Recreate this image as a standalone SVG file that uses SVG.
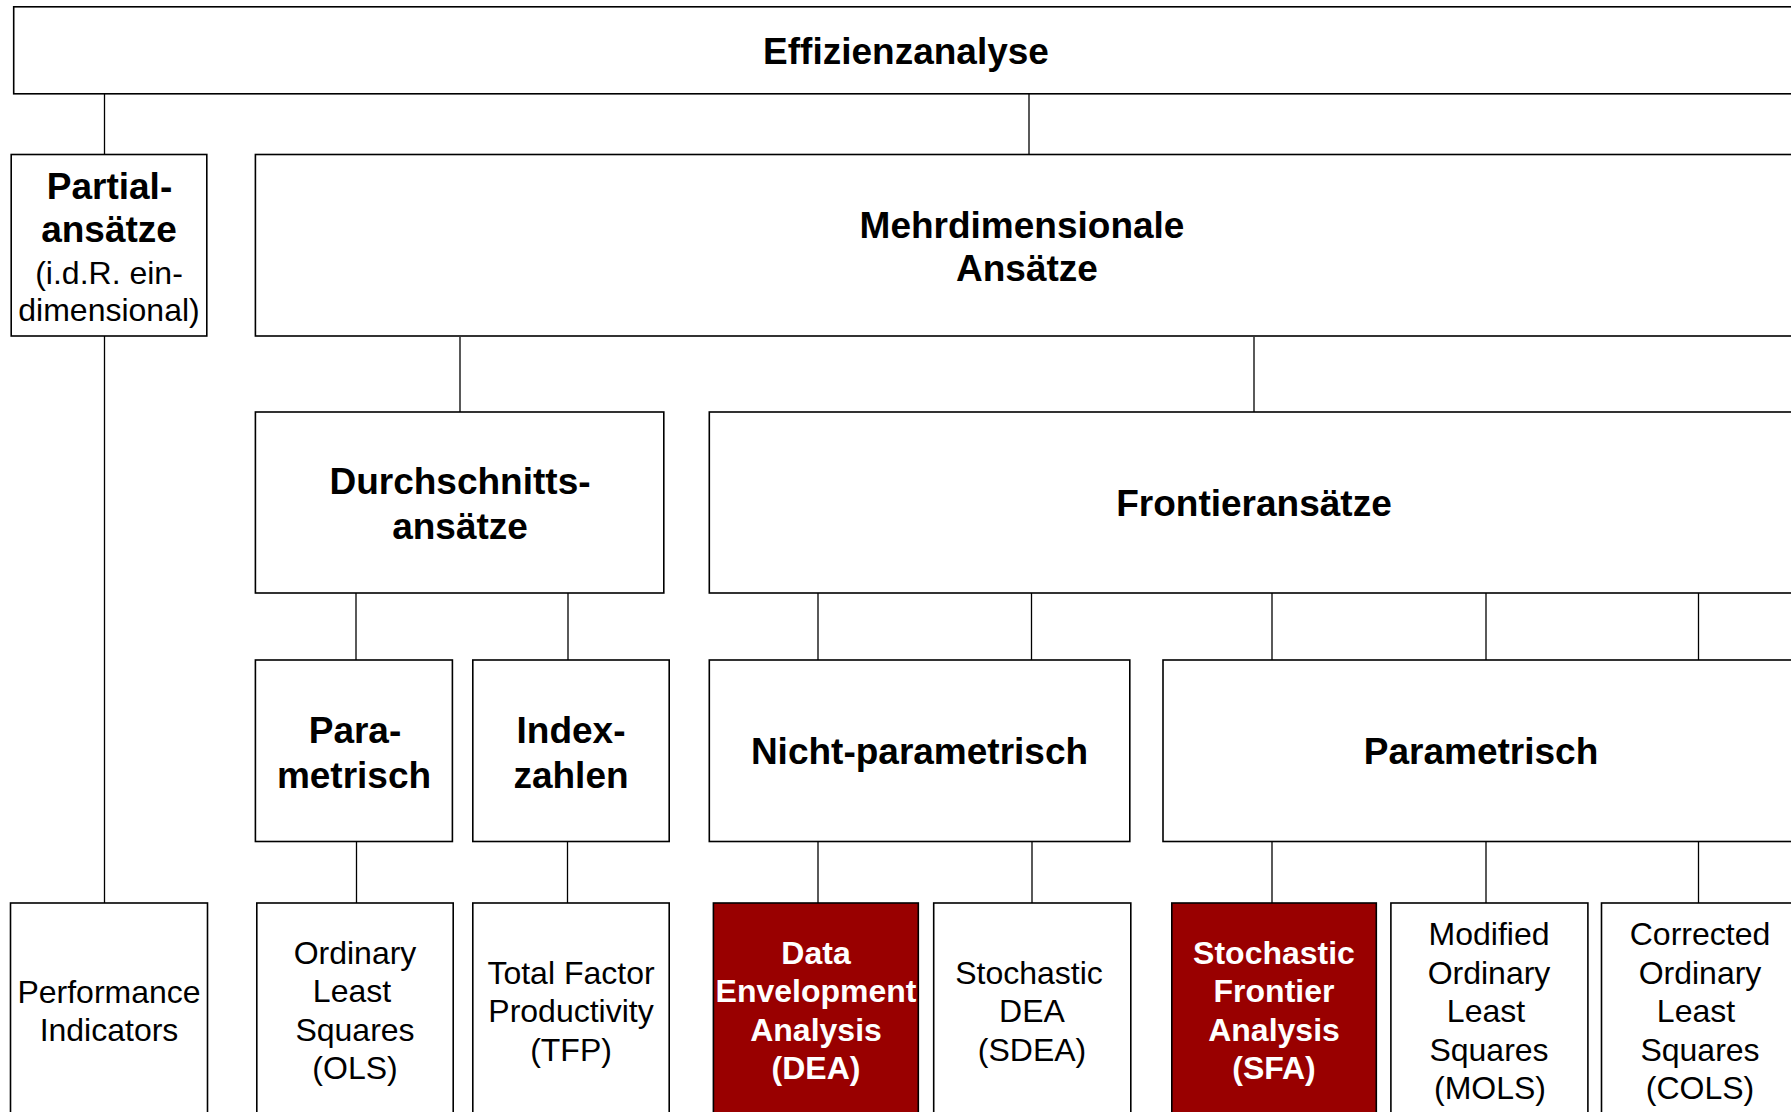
<svg xmlns="http://www.w3.org/2000/svg" width="1791" height="1112" viewBox="0 0 1791 1112">
<style>
.box{fill:#fff;stroke:#000;stroke-width:1.6}
.red{fill:#990000;stroke:#000;stroke-width:1.6}
.con line{stroke:#000;stroke-width:1.3}
text{font-family:"Liberation Sans",Arial,sans-serif;text-anchor:middle;fill:#000}
.h{font-weight:bold;font-size:37px}
.n{font-size:32px}
.w{font-weight:bold;font-size:32px;fill:#fff}
</style>
<rect width="1791" height="1112" fill="#fff"/>
<g id="connectors" class="con">
<line x1="104.5" y1="94" x2="104.5" y2="155"/>
<line x1="1029" y1="94" x2="1029" y2="155"/>
<line x1="104.5" y1="336" x2="104.5" y2="903"/>
<line x1="460" y1="337" x2="460" y2="412"/>
<line x1="1254" y1="337" x2="1254" y2="412"/>
<line x1="356" y1="593" x2="356" y2="660"/>
<line x1="568" y1="593" x2="568" y2="660"/>
<line x1="818" y1="593" x2="818" y2="660"/>
<line x1="1031.5" y1="593" x2="1031.5" y2="660"/>
<line x1="1272" y1="593" x2="1272" y2="660"/>
<line x1="1486" y1="593" x2="1486" y2="660"/>
<line x1="1698.5" y1="593" x2="1698.5" y2="660"/>
<line x1="356.5" y1="842" x2="356.5" y2="903"/>
<line x1="567.5" y1="842" x2="567.5" y2="903"/>
<line x1="818" y1="842" x2="818" y2="903"/>
<line x1="1032" y1="842" x2="1032" y2="903"/>
<line x1="1272" y1="842" x2="1272" y2="903"/>
<line x1="1486" y1="842" x2="1486" y2="903"/>
<line x1="1698.5" y1="842" x2="1698.5" y2="903"/>
</g>
<g id="effizienzanalyse"><rect class="box" x="13.7" y="6.8" width="1785" height="87"/><text class="h" x="906" y="64">Effizienzanalyse</text></g>
<g id="partial"><rect class="box" x="11.2" y="154.5" width="195.6" height="181.5"/>
<text class="h" x="109.5" y="198.5">Partial-</text><text class="h" x="109" y="242">ansätze</text>
<text class="n" x="109" y="284">(i.d.R. ein-</text><text class="n" x="109" y="321">dimensional)</text></g>
<g id="mehrdim"><rect class="box" x="255.4" y="154.5" width="1543" height="181.5"/>
<text class="h" x="1022" y="238">Mehrdimensionale</text><text class="h" x="1027" y="281">Ansätze</text></g>
<g id="durchschnitt"><rect class="box" x="255.4" y="412" width="408.4" height="181"/>
<text class="h" x="460" y="494">Durchschnitts-</text><text class="h" x="460" y="539">ansätze</text></g>
<g id="frontier"><rect class="box" x="709.3" y="412" width="1089" height="181"/>
<text class="h" x="1254" y="516">Frontieransätze</text></g>
<g id="para"><rect class="box" x="255.4" y="660" width="197" height="181.5"/>
<text class="h" x="355" y="743">Para-</text><text class="h" x="354" y="788">metrisch</text></g>
<g id="index"><rect class="box" x="472.8" y="660" width="196.4" height="181.5"/>
<text class="h" x="571" y="743">Index-</text><text class="h" x="571" y="788">zahlen</text></g>
<g id="nichtparam"><rect class="box" x="709.3" y="660" width="420.5" height="181.5"/>
<text class="h" x="919.5" y="764">Nicht-parametrisch</text></g>
<g id="param"><rect class="box" x="1163" y="660" width="635.5" height="181.5"/>
<text class="h" x="1481" y="764">Parametrisch</text></g>
<g id="performance"><rect class="box" x="10.5" y="903" width="197" height="220"/>
<text class="n" x="109" y="1002.5">Performance</text><text class="n" x="109" y="1041">Indicators</text></g>
<g id="ols"><rect class="box" x="256.8" y="903" width="196.4" height="220"/>
<text class="n" x="355" y="963.5">Ordinary</text><text class="n" x="352" y="1002">Least</text><text class="n" x="355" y="1040.5">Squares</text><text class="n" x="355" y="1079">(OLS)</text></g>
<g id="tfp"><rect class="box" x="472.8" y="903" width="196.4" height="220"/>
<text class="n" x="571" y="983.5">Total Factor</text><text class="n" x="571" y="1022">Productivity</text><text class="n" x="571" y="1060.5">(TFP)</text></g>
<g id="dea"><rect class="red" x="713.4" y="903" width="204.9" height="220"/>
<text class="w" x="816" y="963.5">Data</text><text class="w" x="816" y="1002">Envelopment</text><text class="w" x="816" y="1040.5">Analysis</text><text class="w" x="816" y="1079">(DEA)</text></g>
<g id="sdea"><rect class="box" x="933.7" y="903" width="197.1" height="220"/>
<text class="n" x="1029" y="983.5">Stochastic</text><text class="n" x="1032" y="1022">DEA</text><text class="n" x="1032" y="1060.5">(SDEA)</text></g>
<g id="sfa"><rect class="red" x="1171.8" y="903" width="204.5" height="220"/>
<text class="w" x="1274" y="963.5">Stochastic</text><text class="w" x="1274" y="1002">Frontier</text><text class="w" x="1274" y="1040.5">Analysis</text><text class="w" x="1274" y="1079">(SFA)</text></g>
<g id="mols"><rect class="box" x="1390.9" y="903" width="197" height="220"/>
<text class="n" x="1489" y="945">Modified</text><text class="n" x="1489" y="983.5">Ordinary</text><text class="n" x="1486" y="1022">Least</text><text class="n" x="1489" y="1060.5">Squares</text><text class="n" x="1490" y="1099">(MOLS)</text></g>
<g id="cols"><rect class="box" x="1601.5" y="903" width="197" height="220"/>
<text class="n" x="1700" y="945">Corrected</text><text class="n" x="1700" y="983.5">Ordinary</text><text class="n" x="1696" y="1022">Least</text><text class="n" x="1700" y="1060.5">Squares</text><text class="n" x="1700" y="1099">(COLS)</text></g>
</svg>
